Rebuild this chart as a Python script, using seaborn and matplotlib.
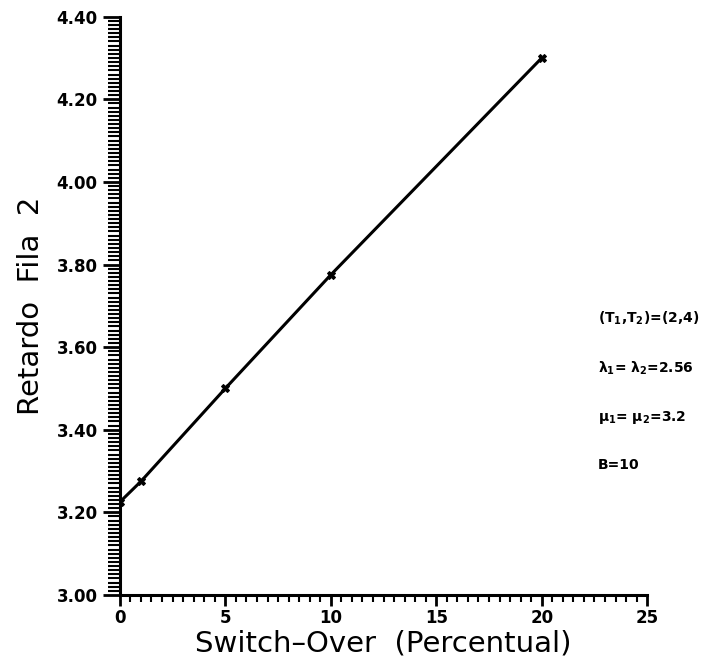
import numpy as np
import pandas as pd
import matplotlib
matplotlib.use("Agg")
import matplotlib.pyplot as plt
import seaborn as sns
from matplotlib.ticker import MultipleLocator, FormatStrFormatter

switch_over = [0, 1, 5, 10, 20]
retardo = [3.225, 3.275, 3.50, 3.775, 4.30]
x_ticks = [0, 5, 10, 15, 20, 25]
y_ticks = [3.00, 3.20, 3.40, 3.60, 3.80, 4.00, 4.20, 4.40]
annotations = ["(T$_1$,T$_2$)=(2,4)",
               "\u03bb$_1$= \u03bb$_2$=2.56",
               "\u03bc$_1$= \u03bc$_2$=3.2", "B=10"]

sns.set_theme(style="white")
plt.rcParams['font.family'] = ['DejaVu Sans']
plt.rcParams['mathtext.default'] = 'regular'
plt.rcParams['text.color'] = 'black'
plt.rcParams['axes.labelcolor'] = 'black'
plt.rcParams['xtick.color'] = 'black'
plt.rcParams['ytick.color'] = 'black'

df = pd.DataFrame({"x": switch_over, "y": retardo})

fig = plt.figure(figsize=(7.05, 6.67), dpi=100)
ax = fig.add_axes([0.170, 0.108, 0.748, 0.867])
sns.lineplot(data=df, x="x", y="y", ax=ax, color="black", linewidth=2.2,
             marker="X", markersize=6, markeredgecolor="black")

ax.set_xlim(0, 25)
ax.set_ylim(3.0, 4.4)
ax.set_xticks(x_ticks)
ax.set_yticks(y_ticks)
ax.yaxis.set_major_formatter(FormatStrFormatter("%.2f"))
ax.xaxis.set_minor_locator(MultipleLocator(0.5))
ax.yaxis.set_minor_locator(MultipleLocator(0.01))
for s in ["top", "right"]:
    ax.spines[s].set_visible(False)
for s in ["left", "bottom"]:
    ax.spines[s].set_color("black")
    ax.spines[s].set_linewidth(2.2)
ax.tick_params(axis="both", which="both", direction="out", color="black",
               left=True, bottom=True)
ax.tick_params(axis="y", which="major", length=12, width=2, labelsize=12, pad=4)
ax.tick_params(axis="y", which="minor", length=9, width=1.5)
ax.tick_params(axis="x", which="major", length=8, width=2, labelsize=12, pad=2)
ax.tick_params(axis="x", which="minor", length=5, width=1.5)
for lab in ax.get_xticklabels() + ax.get_yticklabels():
    lab.set_fontweight("bold")
    lab.set_color("black")

ax.set_xlabel("Switch\u2013Over  (Percentual)", fontsize=21, labelpad=2, color="black")
ax.set_ylabel("Retardo  Fila  2", fontsize=21, labelpad=8, color="black")

ys = [318, 368, 418, 465]
for t, yp in zip(annotations, ys):
    fig.text(598/705, 1 - yp/667, t, fontsize=10, fontweight="bold",
             va="center", ha="left", color="black")

fig.savefig("out.png", dpi=100, facecolor="white")
